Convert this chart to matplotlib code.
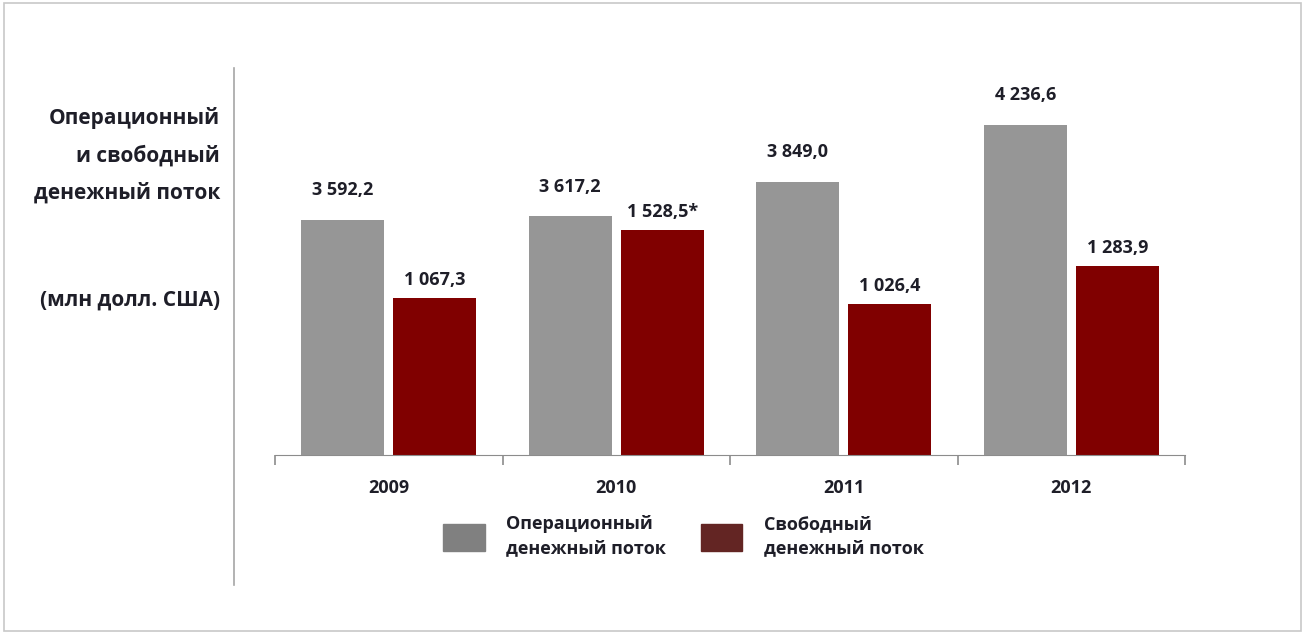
import matplotlib.pyplot as plt
from matplotlib.patches import Rectangle
from matplotlib.lines import Line2D

years = ['2009', '2010', '2011', '2012']
operating = [3592.2, 3617.2, 3849.0, 4236.6]
free = [1067.3, 1528.5, 1026.4, 1283.9]
free_notes = ['', '*', '', '']
legend_labels = ['Операционный\nденежный поток', 'Свободный\nденежный поток']

plt.rcParams['font.family'] = ['Open Sans', 'DejaVu Sans']
plt.rcParams['font.weight'] = 'bold'
txt = '#1e1e28'


def fmt(v):
    s = f'{v:,.1f}'
    return s.replace(',', ' ').replace('.', ',')


fig = plt.figure(figsize=(13.05, 6.34), dpi=100)
fig.patches.append(Rectangle((0.003, 0.005), 0.994, 0.99, transform=fig.transFigure,
                             fill=False, edgecolor='#c8c8c8', lw=1.2))
fig.add_artist(Line2D([234 / 1305, 234 / 1305], [1 - 585 / 634, 1 - 68 / 634],
                      color='#a6a6a6', lw=1.2))

ax = fig.add_axes([275 / 1305, 179 / 634, 910 / 1305, 385 / 634])
ax2 = ax.twinx()
x = list(range(len(years)))
w = 0.365
off = 0.202

# free cash flow on the primary axis, operating on the secondary (offset) axis
ax.bar([i + off for i in x], free, width=w, color='#800000', zorder=2)
ax2.bar([i - off for i in x], operating, width=w, color='#969696', zorder=2)
ax.set_ylim(0, 2610)
ax2.set_ylim(2000, 4610)
ax.set_xlim(-0.5, 3.5)

for i, v in enumerate(free):
    ax.annotate(fmt(v) + free_notes[i], (i + off, v), xytext=(0, 6), textcoords='offset points',
                ha='center', va='bottom', fontsize=13, color=txt)
for i, v in enumerate(operating):
    ax2.annotate(fmt(v), (i - off, v), xytext=(0, 15), textcoords='offset points',
                 ha='center', va='bottom', fontsize=13, color=txt)

for a in (ax, ax2):
    for s in ['top', 'right', 'left']:
        a.spines[s].set_visible(False)
    a.set_yticks([])
ax2.spines['bottom'].set_visible(False)
ax.spines['bottom'].set_color('#8c8c8c')
ax.set_xticks(x)
ax.set_xticklabels(years, fontsize=13, color=txt)
ax.tick_params(axis='x', which='major', length=0, pad=17)
ax.set_xticks([-0.5, 0.5, 1.5, 2.5, 3.5], minor=True)
ax.tick_params(axis='x', which='minor', length=7, color='#8c8c8c', width=1.2)

fig.text(220 / 1305, 1 - 118 / 634, 'Операционный', ha='right', va='center', fontsize=15, color=txt)
fig.text(220 / 1305, 1 - 156 / 634, 'и свободный', ha='right', va='center', fontsize=15, color=txt)
fig.text(220 / 1305, 1 - 193 / 634, 'денежный поток', ha='right', va='center', fontsize=15, color=txt)
fig.text(220 / 1305, 1 - 300 / 634, '(млн долл. США)', ha='right', va='center', fontsize=15, color=txt)

handles = [Rectangle((0, 0), 1, 1, color='#808080'), Rectangle((0, 0), 1, 1, color='#632523')]
leg = fig.legend(handles, legend_labels, ncol=2, loc='center left',
                 bbox_to_anchor=(427 / 1305, 1 - 536 / 634), frameon=False, fontsize=13,
                 handlelength=2.3, handleheight=1.9, handletextpad=1.2, columnspacing=1.9,
                 labelcolor=txt)
for t in leg.get_texts():
    t.set_linespacing(1.45)

fig.savefig('out.png', dpi=100)
